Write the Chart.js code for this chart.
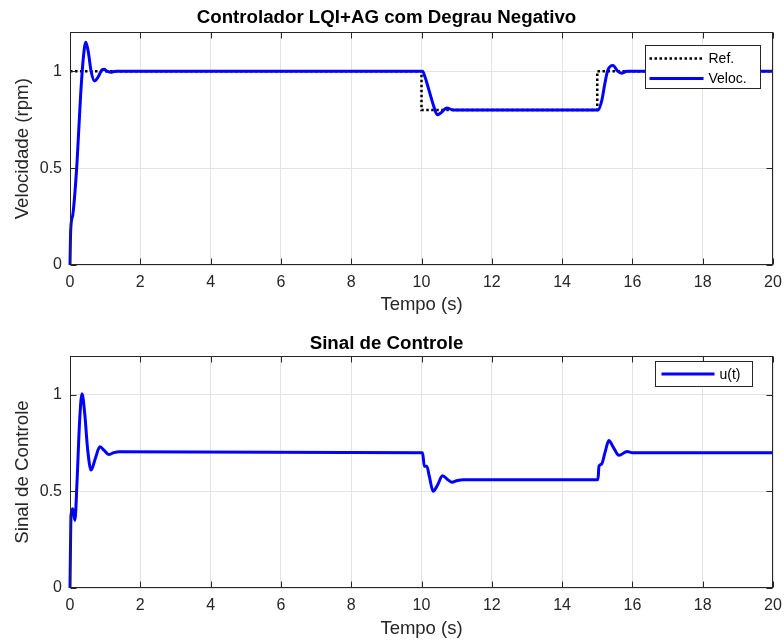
<!DOCTYPE html>
<html>
<head>
<meta charset="utf-8">
<script src="https://cdn.jsdelivr.net/npm/chart.js@4/dist/chart.umd.min.js"></script>
<style>
  html, body { margin: 0; padding: 0; background: #fff; }
  #wrap { position: relative; width: 784px; height: 641px; }
  .panel { position: absolute; left: 0; width: 784px; }
</style>
</head>
<body>
<div id="wrap">
  <div class="panel" style="top:0;height:322px"><canvas id="velChart"></canvas></div>
  <div class="panel" style="top:322px;height:319px"><canvas id="ctrlChart"></canvas></div>
</div>
<script>
// Reference speed (step down at 10 s, back up at 15 s)
const refTime   = [0, 10, 10, 15, 15, 20];
const refValues = [1, 1, 0.8, 0.8, 1, 1];

// Measured speed response (rpm)
const velTime   = [0, 0.02, 0.08, 0.2, 0.3, 0.38, 0.45, 0.52, 0.6, 0.7, 0.8, 0.9, 0.97, 1.05, 1.15, 1.3,
                   10.03, 10.1, 10.2, 10.33, 10.45, 10.55, 10.72, 10.9, 11.1,
                   15.02, 15.13, 15.22, 15.3, 15.45, 15.58, 15.7, 15.85, 16.0, 20];
const velValues = [0, 0.18, 0.26, 0.53, 0.87, 1.07, 1.15, 1.1, 1.0, 0.95, 0.97, 1.005, 1.01, 1.0, 0.995, 1.0,
                   1.0, 0.97, 0.91, 0.83, 0.775, 0.785, 0.81, 0.8, 0.8,
                   0.8, 0.85, 0.94, 1.005, 1.03, 1.0, 0.99, 1.0, 1.0, 1.0];

// Control signal u(t)
const ctrlTime   = [0, 0.03, 0.08, 0.14, 0.2, 0.27, 0.34, 0.42, 0.5, 0.6, 0.72, 0.85, 0.98, 1.1, 1.25, 1.4,
                    10.03, 10.08, 10.15, 10.22, 10.33, 10.45, 10.6, 10.75, 10.87, 11.0, 11.2,
                    15.02, 15.05, 15.12, 15.22, 15.33, 15.45, 15.62, 15.85, 16.0, 16.2, 20];
const ctrlValues = [0, 0.38, 0.41, 0.35, 0.55, 0.85, 1.005, 0.9, 0.72, 0.61, 0.67, 0.73, 0.71, 0.69, 0.70, 0.705,
                    0.70, 0.63, 0.63, 0.58, 0.50, 0.53, 0.58, 0.56, 0.547, 0.555, 0.56,
                    0.56, 0.63, 0.64, 0.70, 0.763, 0.73, 0.686, 0.706, 0.70, 0.70, 0.70];

// Axis ticks
const xTicks = [0, 2, 4, 6, 8, 10, 12, 14, 16, 18, 20];
const yTicks = [0, 0.5, 1];

const FONT = "'Liberation Sans', Arial, Helvetica, sans-serif";
const AXIS_COLOR = '#262626';

const toPoints = (xs, ys) => xs.map((x, i) => ({ x, y: ys[i] }));

// Box around the plot area with inward tick marks, plus an inset legend
const framePlugin = {
  id: 'frame',
  afterDatasetsDraw(chart, args, opts) {
    const { ctx, chartArea: a, scales: { x, y } } = chart;
    ctx.save();
    const L = Math.round(a.left) + 0.5, R = Math.round(a.right) - 0.5;
    const T = Math.round(a.top) + 0.5, B = Math.round(a.bottom) - 0.5;
    ctx.strokeStyle = AXIS_COLOR;
    ctx.lineWidth = 1;
    ctx.beginPath();
    const tl = 6;
    xTicks.forEach(v => {
      const px = Math.round(x.getPixelForValue(v)) + 0.5;
      ctx.moveTo(px, B); ctx.lineTo(px, B - tl);
      ctx.moveTo(px, T); ctx.lineTo(px, T + tl);
    });
    yTicks.forEach(v => {
      const py = Math.round(y.getPixelForValue(v)) + 0.5;
      ctx.moveTo(L, py); ctx.lineTo(L + tl, py);
      ctx.moveTo(R, py); ctx.lineTo(R - tl, py);
    });
    ctx.stroke();
    ctx.strokeRect(L, T, R - L, B - T);

    // legend
    const lg = opts.legend;
    if (lg) {
      const bx = Math.round(a.right - lg.right - lg.width) + 0.5;
      const by = Math.round(a.top + lg.top) + 0.5;
      ctx.fillStyle = '#fff';
      ctx.fillRect(bx, by, lg.width, lg.height);
      ctx.strokeStyle = AXIS_COLOR;
      ctx.lineWidth = 1;
      ctx.strokeRect(bx, by, lg.width, lg.height);
      ctx.font = '14px ' + FONT;
      ctx.textBaseline = 'middle';
      chart.data.datasets.forEach((ds, i) => {
        const cy = by + lg.rowTop + i * lg.rowGap;
        ctx.beginPath();
        ctx.strokeStyle = ds.borderColor;
        ctx.lineWidth = ds.borderWidth;
        ctx.setLineDash(ds.borderDash || []);
        ctx.moveTo(bx + lg.sampleLeft, cy);
        ctx.lineTo(bx + lg.sampleLeft + lg.sampleLen, cy);
        ctx.stroke();
        ctx.setLineDash([]);
        ctx.fillStyle = '#000';
        ctx.fillText(ds.label, bx + lg.sampleLeft + lg.sampleLen + 5, cy + 1);
      });
    }
    ctx.restore();
  }
};

function makeOptions(title, yTitle, xAxisHeight, titlePad, xTitleBottom, legend) {
  return {
    responsive: true,
    maintainAspectRatio: false,
    animation: false,
    layout: { padding: { left: 0, right: 11, top: 0, bottom: 0 } },
    plugins: {
      legend: { display: false },
      tooltip: { enabled: false },
      title: {
        display: true,
        text: title,
        color: '#000',
        font: { family: FONT, size: 18.7, weight: 'bold' },
        padding: titlePad
      },
      frame: { legend }
    },
    scales: {
      x: {
        type: 'linear',
        min: 0, max: 20,
        afterBuildTicks: s => { s.ticks = xTicks.map(v => ({ value: v })); },
        afterFit: s => { s.height = xAxisHeight; s.paddingLeft = 0; s.paddingRight = 0; },
        ticks: { color: AXIS_COLOR, font: { family: FONT, size: 16 }, padding: 8, maxRotation: 0 },
        grid: { color: '#e3e3e3', drawTicks: false },
        border: { display: false },
        title: { display: true, text: 'Tempo (s)', color: AXIS_COLOR, font: { family: FONT, size: 18.5 }, padding: { top: 0, bottom: xTitleBottom } }
      },
      y: {
        min: 0, max: 1.2,
        afterBuildTicks: s => { s.ticks = yTicks.map(v => ({ value: v })); },
        afterFit: s => { s.width = 70; s.paddingTop = 0; s.paddingBottom = 0; },
        ticks: { color: AXIS_COLOR, font: { family: FONT, size: 16 }, padding: 8, callback: v => String(v) },
        grid: { color: '#e3e3e3', drawTicks: false },
        border: { display: false },
        title: { display: true, text: yTitle, color: AXIS_COLOR, font: { family: FONT, size: 18.7 }, padding: { top: 12, bottom: 0 } }
      }
    }
  };
}

new Chart(document.getElementById('velChart'), {
  type: 'line',
  data: {
    datasets: [
      {
        label: 'Ref.',
        data: toPoints(refTime, refValues),
        borderColor: '#000',
        borderWidth: 2.5,
        borderDash: [2.5, 2.5],
        pointRadius: 0,
        tension: 0,
        order: 1
      },
      {
        label: 'Veloc.',
        data: toPoints(velTime, velValues),
        borderColor: '#0000ff',
        borderWidth: 3,
        pointRadius: 0,
        cubicInterpolationMode: 'monotone',
        order: 0,
        clip: 3
      }
    ]
  },
  options: makeOptions('Controlador LQI+AG com Degrau Negativo', 'Velocidade (rpm)', 57,
    { top: 7, bottom: 3 }, 6,
    { right: 13, top: 13, width: 115, height: 43, rowTop: 13, rowGap: 20, sampleLeft: 4, sampleLen: 54 }),
  plugins: [framePlugin]
});

new Chart(document.getElementById('ctrlChart'), {
  type: 'line',
  data: {
    datasets: [
      {
        label: 'u(t)',
        data: toPoints(ctrlTime, ctrlValues),
        borderColor: '#0000ff',
        borderWidth: 3,
        pointRadius: 0,
        cubicInterpolationMode: 'monotone',
        clip: 3
      }
    ]
  },
  options: makeOptions('Sinal de Controle', 'Sinal de Controle', 53,
    { top: 10.5, bottom: 1 }, 1,
    { right: 21, top: 5, width: 97, height: 25, rowTop: 12.5, rowGap: 20, sampleLeft: 6, sampleLen: 53 }),
  plugins: [framePlugin]
});
</script>
</body>
</html>
